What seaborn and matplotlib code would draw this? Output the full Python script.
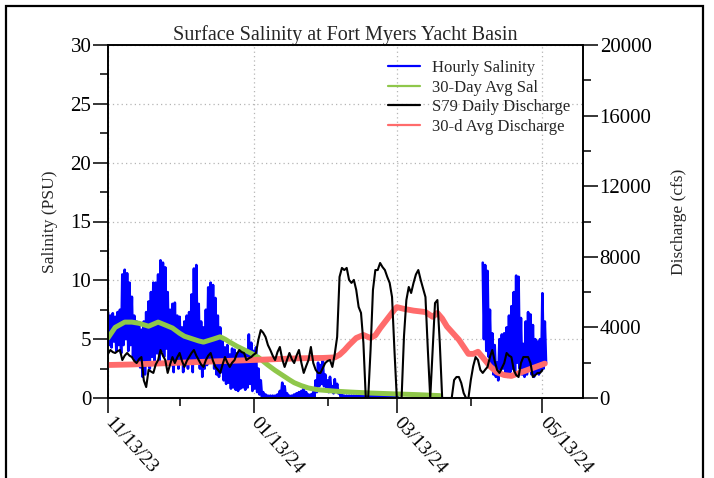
import numpy as np
import pandas as pd
import matplotlib
matplotlib.use("Agg")
import matplotlib.pyplot as plt
import matplotlib.dates as mdates
from matplotlib.ticker import MultipleLocator
from matplotlib.lines import Line2D
from matplotlib.patches import Rectangle
import seaborn as sns

sns.set_theme(style="ticks")
plt.rcParams['font.family'] = ['Liberation Serif', 'DejaVu Serif']

# ---------------- data ----------------
start_date = "2023-11-13"
end_date = "2024-05-30"

title = "Surface Salinity at Fort Myers Yacht Basin"
series_names = ["Hourly Salinity", "30-Day Avg Sal", "S79 Daily Discharge", "30-d Avg Discharge"]

# S79 daily discharge (cfs), one value per day from 11/13/23
discharge_daily = [
    2500, 2720, 2600, 2550, 2650, 2720, 2150, 2400, 2550, 2400,
    2320, 2100, 1980, 2200, 2320, 1000, 620, 1590, 1500, 1420,
    1900, 2150, 2720, 2400, 2150, 1420, 1900, 2320, 1980, 2300,
    2550, 2100, 1760, 2100, 2320, 2550, 2720, 2400, 2150, 1900,
    1760, 2150, 2400, 2550, 2100, 1760, 1600, 1420, 1900, 2320,
    2000, 1760, 2000, 2150, 2500, 2720, 2600, 2550, 2150, 2250,
    2320, 2450, 2550, 3300, 3850, 3700, 3460, 3000, 2720, 2400,
    2150, 2600, 2890, 2200, 1760, 2150, 2550, 2200, 1980, 2400,
    2720, 2000, 1420, 1800, 2150, 2890, 1980, 1600, 1420, 1420,
    1700, 1980, 2100, 2150, 1760, 2500, 3460, 6860, 7370, 7250,
    7370, 6690, 6520, 6690, 6120, 5160, 4820, 3120, 0, 0,
    2720, 6120, 7250, 7250, 7650, 7420, 7250, 6860, 6520, 5720,
    2720, 0, 0, 0, 3500, 5550, 6290, 5950, 6520, 7000,
    7250, 6690, 6200, 5720, 2720, 0, 2720, 5380, 5550, 3120,
    0, 0, 0, 0, 0, 1020, 1190, 1190, 850, 280,
    0, 0, 1020, 1800, 2320, 2150, 1590, 1420, 1600, 1760,
    2320, 2720, 2100, 1590, 1420, 1700, 1980, 2550, 2400, 2320,
    1590, 1300, 1190, 1980, 2320, 2320, 2320, 1980, 1190, 1300,
    1420, 1420, 1590,
]

# 30-day average discharge (cfs) read at day offsets from 11/13/23
avg_q_days = [0, 10, 20, 30, 40, 50, 60, 70, 80, 90, 95, 97, 99, 101, 104, 107, 110, 112,
              114, 116, 118, 120, 121, 124, 128, 133, 136, 138, 140, 142, 145, 147, 149,
              151, 153, 155, 157, 160, 163, 166, 169, 172, 175, 178, 181, 183]
avg_q = [1870, 1900, 1950, 2000, 2050, 2100, 2150, 2200, 2250, 2270, 2300, 2450, 2700,
         3000, 3400, 3570, 3400, 3550, 3950, 4300, 4650, 5000, 5150, 5050, 4950, 4870,
         4600, 4820, 4500, 4050, 3600, 3300, 2900, 2500, 2500, 2620, 2300, 1800, 1450,
         1300, 1250, 1400, 1550, 1700, 1850, 1950]

# 30-day average salinity (PSU) read at day offsets
avg_sal_days = [0, 3, 7, 10, 13, 17, 21, 24, 27, 30, 32, 35, 38, 40, 44, 47, 49, 51, 54,
                57, 60, 63, 67, 70, 73, 76, 78, 81, 84, 88, 95, 102, 110, 120, 130, 139]
avg_sal = [5.1, 6.0, 6.45, 6.45, 6.35, 6.1, 6.45, 6.2, 5.95, 5.5, 5.25, 5.05, 4.85, 4.75,
           5.0, 5.2, 5.0, 4.75, 4.4, 4.1, 3.8, 3.45, 2.8, 2.35, 1.95, 1.55, 1.3, 1.05,
           0.85, 0.7, 0.58, 0.5, 0.42, 0.35, 0.28, 0.2]

# Hourly salinity: daily high / low of the tidal signal (PSU)
sal_seg1_start = 0
sal_hi_1 = [
    7.3, 7.0, 7.2, 6.9, 7.3, 7.5, 10.5, 10.9, 10.6, 9.8,
    8.6, 7.0, 6.5, 6.2, 5.8, 6.5, 7.3, 8.2, 9.0, 9.8,
    9.8, 10.5, 11.7, 11.5, 11.1, 9.0, 7.5, 8.0, 8.1, 7.0,
    6.9, 6.0, 6.5, 7.0, 7.3, 8.8, 11.0, 11.3, 8.0, 6.5,
    6.0, 7.5, 9.4, 9.8, 9.6, 8.5, 7.0, 6.0, 5.0, 4.3,
    4.5, 3.7, 4.2, 4.1, 3.8, 4.1, 4.0, 3.8, 3.8, 5.4,
    4.7, 4.0, 4.3, 2.5, 1.5, 0.5, 0.3, 0.2, 0.2, 0.2,
    0.2, 0.3, 0.6, 1.3, 1.0, 0.4, 0.2, 0.2, 0.3, 0.4,
    0.5, 0.6, 0.8, 0.5, 0.3, 0.3, 0.5, 1.5, 3.0, 2.8,
    3.2, 2.0, 1.5, 1.8, 1.0, 1.6, 1.2, 0.5, 0.3, 0.2,
    0.2, 0.2, 0.2, 0.2, 0.2, 0.2, 0.2, 0.2, 0.2, 0.2,
    0.2, 0.2, 0.2, 0.2, 0.2, 0.2, 0.2, 0.2, 0.2, 0.2,
    0.2, 0.2,
]
sal_lo_1 = [
    4.5, 4.3, 4.8, 4.0, 4.5, 3.8, 4.5, 5.0, 4.0, 4.5,
    3.5, 3.0, 3.3, 2.6, 1.8, 2.0, 3.0, 2.5, 3.5, 3.0,
    3.8, 3.0, 4.0, 3.5, 4.2, 3.0, 2.8, 2.2, 3.0, 2.5,
    3.0, 2.2, 2.8, 2.5, 3.0, 2.2, 3.0, 3.5, 2.5, 1.8,
    2.5, 2.8, 3.0, 3.5, 2.5, 2.0, 1.8, 2.2, 1.5, 1.2,
    1.3, 0.8, 0.9, 0.7, 0.6, 0.8, 0.9, 0.7, 0.9, 1.2,
    0.6, 0.8, 0.5, 0.3, 0.1, 0.1, 0.1, 0.1, 0.1, 0.1,
    0.1, 0.1, 0.1, 0.1, 0.1, 0.1, 0.1, 0.1, 0.1, 0.1,
    0.1, 0.1, 0.1, 0.1, 0.1, 0.1, 0.1, 0.5, 1.0, 1.2,
    1.0, 0.7, 0.5, 0.8, 0.4, 0.6, 0.4, 0.1, 0.1, 0.1,
    0.1, 0.1, 0.1, 0.1, 0.1, 0.1, 0.1, 0.1, 0.1, 0.1,
    0.1, 0.1, 0.1, 0.1, 0.1, 0.1, 0.1, 0.1, 0.1, 0.1,
    0.1, 0.1,
]
sal_seg2_start = 157
sal_hi_2 = [11.5, 11.3, 10.8, 7.5, 5.5, 4.5, 3.0, 5.0, 5.4, 5.5, 6.0, 7.0, 7.8, 9.0,
            10.4, 10.3, 6.8, 4.6, 6.5, 7.3, 7.1, 6.2, 5.0, 4.8, 5.0, 8.9, 6.5]
sal_lo_2 = [5.0, 4.0, 3.5, 2.5, 2.0, 1.8, 1.5, 2.0, 2.5, 2.0, 1.8, 2.2, 2.5, 2.0,
            3.0, 2.5, 2.0, 1.8, 2.0, 2.5, 2.0, 1.8, 2.2, 2.0, 2.3, 2.5, 3.0]

# ---------------- build frames ----------------
t0 = pd.Timestamp(start_date)


def tidal_trace(day0, hi, lo):
    days, vals = [], []
    for i, (h, l) in enumerate(zip(hi, lo)):
        days += [day0 + i, day0 + i + 0.5]
        vals += [h, l]
    return pd.DataFrame({"date": t0 + pd.to_timedelta(days, unit="D"), "sal": vals})


seg1 = tidal_trace(sal_seg1_start, sal_hi_1, sal_lo_1)
seg2 = tidal_trace(sal_seg2_start, sal_hi_2, sal_lo_2)
q_df = pd.DataFrame({"date": pd.date_range(t0, periods=len(discharge_daily), freq="D"),
                     "q": discharge_daily})
qa_df = pd.DataFrame({"date": t0 + pd.to_timedelta(avg_q_days, unit="D"), "q": avg_q})
sa_df = pd.DataFrame({"date": t0 + pd.to_timedelta(avg_sal_days, unit="D"), "sal": avg_sal})

c_blue = "#0000ff"
c_green = "#8fc74a"
c_black = "#000000"
c_red = "#ff6b6b"

# ---------------- plot ----------------
W, H = 714, 478
fig = plt.figure(figsize=(W / 100, H / 100), dpi=100)
ax = fig.add_axes([108 / W, 1 - 398 / H, (583 - 108) / W, (398 - 45) / H])
ax2 = ax.twinx()

sns.lineplot(data=seg1, x="date", y="sal", ax=ax, color=c_blue, lw=1.9, estimator=None)
sns.lineplot(data=seg2, x="date", y="sal", ax=ax, color=c_blue, lw=1.9, estimator=None)
sns.lineplot(data=sa_df, x="date", y="sal", ax=ax, color=c_green, lw=3.6, estimator=None)
sns.lineplot(data=qa_df, x="date", y="q", ax=ax2, color=c_red, lw=4.2, estimator=None)
sns.lineplot(data=q_df, x="date", y="q", ax=ax2, color=c_black, lw=1.5, estimator=None)

ax.set_xlim(pd.Timestamp(start_date), pd.Timestamp(end_date))
ax.set_ylim(0, 30)
ax2.set_ylim(0, 20000)

ax.yaxis.set_major_locator(MultipleLocator(5))
ax.yaxis.set_minor_locator(MultipleLocator(2.5))
ax2.yaxis.set_major_locator(MultipleLocator(4000))
ax2.yaxis.set_minor_locator(MultipleLocator(2000))
ax.xaxis.set_major_locator(mdates.MonthLocator(bymonth=[1, 3, 5, 11], bymonthday=13))
ax.xaxis.set_minor_locator(mdates.MonthLocator(bymonth=[2, 4, 12], bymonthday=13))
ax.xaxis.set_major_formatter(mdates.DateFormatter("%m/%d/%y"))

ax.grid(True, which="major", axis="both", linestyle=(0, (1, 2.5)), color="#b5b5b5", lw=0.9)
ax2.grid(False)

for a in (ax, ax2):
    for s in a.spines.values():
        s.set_visible(True)
        s.set_color("black")
        s.set_linewidth(1.2)

ax.tick_params(axis="both", which="major", direction="out", length=10.5, width=1.1,
               colors="black", labelsize=15, pad=1.5)
ax.tick_params(axis="both", which="minor", direction="out", length=5.5, width=1.1, colors="black")
ax.tick_params(axis="x", which="both", top=False)
ax.tick_params(axis="y", which="both", right=False)
ax2.tick_params(axis="y", which="major", direction="out", length=10.5, width=1.1,
                colors="black", labelsize=15, pad=1.5)
ax2.tick_params(axis="y", which="minor", direction="out", length=5.5, width=1.1, colors="black")

for lab in ax.get_xticklabels():
    lab.set_rotation(-48)
    lab.set_ha("left")
    lab.set_va("center")
    lab.set_rotation_mode("anchor")
    lab.set_fontsize(14)
ax.tick_params(axis="x", which="major", pad=5)

ax.set_xlabel("")
ax.set_ylabel("Salinity (PSU)", fontsize=12.5, labelpad=9)
ax2.set_ylabel("Discharge (cfs)", fontsize=12.5, labelpad=14)
ax.set_title(title, fontsize=14.5, pad=1)

handles = [Line2D([], [], color=c, lw=1.6) for c in (c_blue, c_green, c_black, c_red)]
for a in (ax, ax2):
    lg = a.get_legend()
    if lg is not None:
        lg.remove()
ax2.legend(handles, series_names, loc="upper left", bbox_to_anchor=(388 / W, 1 - 60 / H),
           bbox_transform=fig.transFigure, frameon=False, fontsize=12, handlelength=1.9,
           handletextpad=0.75, labelspacing=0.22, borderpad=0, borderaxespad=0)

fig.patches.append(Rectangle((5.5 / W, -0.05), (703 - 5.5) / W, 1.05 - 5.5 / H,
                             transform=fig.transFigure, fill=False, lw=1.6, ec="black"))

fig.savefig("out.png", dpi=100)
